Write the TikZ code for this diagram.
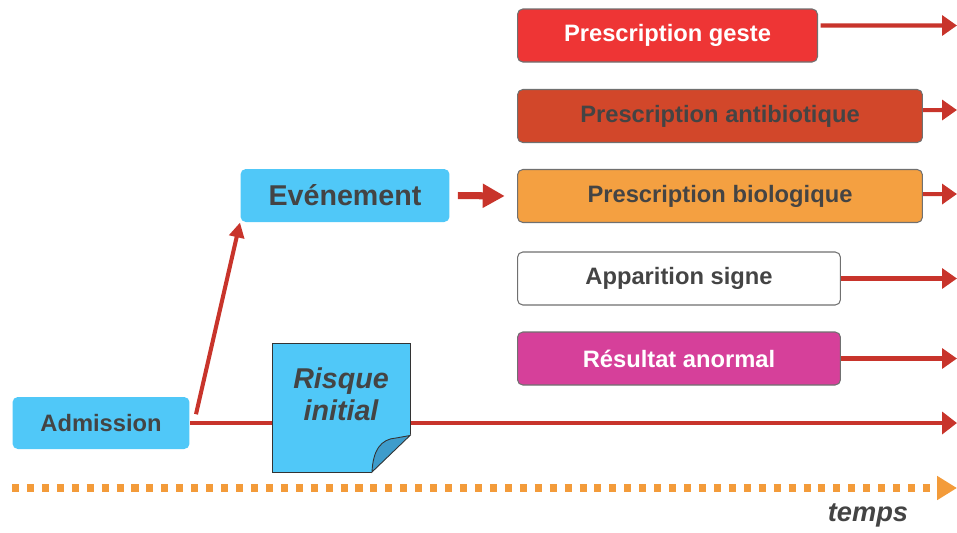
\documentclass[tikz,border=0pt]{standalone}
\usepackage{fontspec}
\setmainfont{Liberation Sans}
\usetikzlibrary{arrows.meta}

\definecolor{skyblue}{HTML}{50C8F8}
\definecolor{gesteRed}{HTML}{EE3535}
\definecolor{antibioRed}{HTML}{D2472A}
\definecolor{bioOrange}{HTML}{F4A041}
\definecolor{anormalPink}{HTML}{D6409A}
\definecolor{arrowRed}{HTML}{C8342B}
\definecolor{boxGray}{HTML}{707070}
\definecolor{txtGray}{HTML}{444444}
\definecolor{timeOrange}{HTML}{F39B3A}
\definecolor{curlBlue}{HTML}{3E9CCB}

\begin{document}
\begin{tikzpicture}[x=0.02cm, y=-0.02cm,
    box/.style={draw=boxGray, line width=0.6pt, rounded corners=3pt, inner sep=0pt,
        anchor=west, minimum height=1.06cm, text=txtGray,
        font=\fontsize{13.5}{16}\selectfont\bfseries},
    blue box/.style={box, draw=none, fill=skyblue},
    red arrow/.style={draw=arrowRed, line width=2.3pt, -{Triangle[length=8.5pt, width=11.3pt]}}]
    \useasboundingbox (0,0) rectangle (957,532);

    % actions on the right
    \node [box, fill=gesteRed, text=white, minimum width=6cm] (geste) at (517,35.5) {Prescription geste};
    \node [box, fill=antibioRed, minimum width=8.1cm] (antibio) at (517,116) {Prescription antibiotique};
    \node [box, fill=bioOrange, minimum width=8.1cm] (bio) at (517,196) {Prescription biologique};
    \node [box, fill=white, minimum width=6.46cm] (signe) at (517,278.5) {Apparition signe};
    \node [box, fill=anormalPink, text=white, minimum width=6.46cm] (anormal) at (517,358.5) {R\'esultat anormal};

    \node [blue box, minimum width=4.18cm, font=\fontsize{16.3}{19}\selectfont\bfseries] (event) at (240,195.5) {Ev\'enement};
    \node [blue box, minimum width=3.54cm, minimum height=1.04cm] (admission) at (12,423) {Admission};

    \coordinate (gesteEnd) at (957,25.5);
    \coordinate (antibioEnd) at (957,110);
    \coordinate (bioEnd) at (957,194);
    \coordinate (signeEnd) at (957,278.5);
    \coordinate (anormalEnd) at (957,358.5);
    \coordinate (mainEnd) at (957,423);

    \draw [red arrow] ([xshift=1.5pt, yshift=5.7pt]geste.east) -- (gesteEnd);
    \draw [red arrow] ([yshift=3.4pt]antibio.east) -- (antibioEnd);
    \draw [red arrow] ([yshift=1.1pt]bio.east) -- (bioEnd);
    \draw [red arrow] (signe.east) -- (signeEnd);
    \draw [red arrow] (anormal.east) -- (anormalEnd);
    \draw [red arrow, line width=4pt, -{Triangle[length=12.5pt, width=13pt]}] ([xshift=4.5pt]event.east) -- ([xshift=-7pt]bio.west);
    \draw [red arrow, -{Triangle[length=8.5pt, width=8.5pt]}] ([xshift=3.4pt, yshift=5pt]admission.east) -- (event.south west);
    \draw [red arrow, -{Triangle[length=8.5pt, width=12.5pt]}] (admission.east) -- (mainEnd);

    % sticky note
    \node [draw=black!80, line width=0.5pt, fill=skyblue, minimum width=2.76cm, minimum height=2.58cm, inner sep=0pt] (risque) at (341,407.5) {};
    \fill [white] (410.8,434.5) -- (411.5,473.5) -- (371,473.5) -- cycle;
    \filldraw [fill=curlBlue, draw=black!80, line width=0.5pt] (372,472) .. controls (373,450) and (381,439) .. (396,438) -- (410,435.5) -- cycle;
    \node [align=center, text=txtGray, font=\fontsize{16.3}{18}\selectfont\bfseries\itshape] (risqueText) at (341,394) {Risque\\initial};

    % time axis
    \coordinate (t0) at (12,488);
    \coordinate (t1) at (957,488);
    \draw [timeOrange, line width=4pt, dash pattern=on 4pt off 4.5pt, -{Triangle[length=11.3pt, width=13pt]}] (t0) -- (t1);
    \node [text=txtGray, font=\fontsize{15.5}{18}\selectfont\bfseries\itshape] (temps) at (868,515) {temps};
\end{tikzpicture}
\end{document}
